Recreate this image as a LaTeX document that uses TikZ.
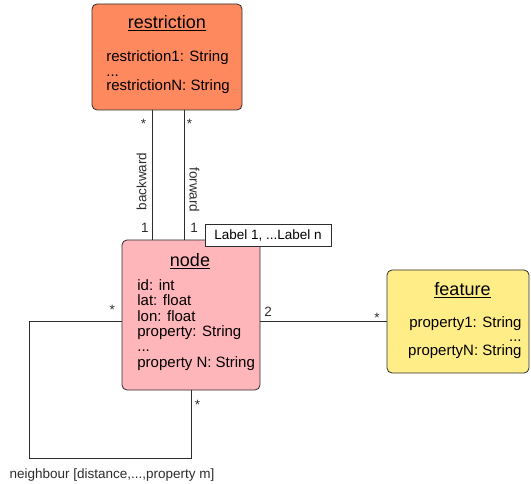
\documentclass[tikz,border=0pt]{standalone}
\usepackage{fontspec}
\setmainfont{Liberation Sans}
\usepackage{tikz}
\usetikzlibrary{positioning}
\definecolor{restrfill}{RGB}{255,137,94}
\definecolor{nodefill}{RGB}{255,182,186}
\definecolor{featfill}{RGB}{255,238,136}
\definecolor{linegray}{RGB}{45,45,45}

\begin{document}
\begin{tikzpicture}[x=1pt, y=-1pt, line width=0.8pt]
    % Styles:
    \tikzset{classbox/.style={draw=linegray, rounded corners=5pt, inner sep=0pt}}
    \tikzset{title/.style={font=\fontsize{18}{20}\selectfont, anchor=base, inner sep=0pt}}
    \tikzset{attr/.style={inner sep=0pt, font=\fontsize{15}{15.4}\selectfont}}
    \tikzset{mult/.style={font=\fontsize{13.5}{15}\selectfont, inner sep=1pt}}

    \useasboundingbox (0,0) rectangle (531,484);

    % Main nodes:
    \node[classbox, fill=restrfill, minimum width=150pt, minimum height=106pt] (restriction) at (167,57) {};
    \node[classbox, fill=nodefill, minimum width=138pt, minimum height=150pt] (nodebox) at (191,315) {};
    \node[classbox, fill=featfill, minimum width=142pt, minimum height=103pt] (feature) at (458,321.5) {};
    \node[draw=linegray, fill=white, mult, minimum width=126pt, minimum height=22pt] (labels) at (268,235) {Label 1, ...Label n};

    % Titles and attributes:
    \node[title] (restrtitle) at (167,28.5) {\underline{restriction}};
    \node[attr, anchor=north west, align=left, font=\fontsize{15}{14.5}\selectfont] (restrattr) at (106,50.5)
        {restriction1: String\\...\\restrictionN: String};
    \node[title] (nodetitle) at (190,267) {\underline{node}};
    \node[attr, anchor=north west, align=left] (nodeattr) at (137,279)
        {id: int\\lat: float\\lon: float\\property: String\\...\\property N: String};
    \node[title] (feattitle) at (462.5,295.5) {\underline{feature}};
    \node[attr, anchor=north east, align=right, font=\fontsize{15}{14}\selectfont] (featattr) at (522,316)
        {property1: String\\...\\propertyN: String};

    % Associations:
    \draw[linegray] ([xshift=-15pt]restriction.south) -- ([xshift=-39pt]nodebox.north)
        node[mult, pos=0.108, left=4.5pt] {*}
        node[mult, pos=0.55, rotate=90, anchor=south, inner sep=5pt] {backward}
        node[mult, pos=0.908, left=2pt] {1};
    \draw[linegray] ([xshift=17pt]restriction.south) -- ([xshift=-7pt]nodebox.north)
        node[mult, pos=0.108, right=1.5pt] {*}
        node[mult, pos=0.615, rotate=-90, anchor=south, inner sep=5pt] {forward}
        node[mult, pos=0.908, right=5pt] {1};
    \draw[linegray] (nodebox.east |- feature.west) -- (feature.west)
        node[mult, at start, anchor=base west, xshift=2.5pt, yshift=4.8pt] {2}
        node[mult, at end, anchor=base east, xshift=-5.5pt, yshift=-1.4pt] {*};

    % Self loop:
    \coordinate (loop) at (29,458);
    \draw[linegray] (nodebox.west |- feature.west)
        node[mult, anchor=base east, xshift=-5.4pt, yshift=6.5pt] {*}
        -| (loop) -| (nodebox.south)
        node[mult, pos=0.256, below=9pt] {neighbour [distance,...,property m]}
        node[mult, at end, anchor=base west, xshift=2.4pt, yshift=-19pt] {*};
\end{tikzpicture}
\end{document}
